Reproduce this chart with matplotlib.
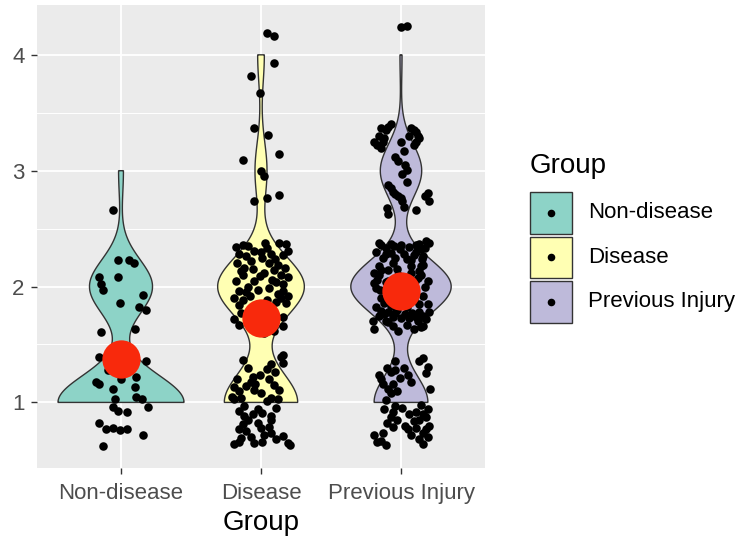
import numpy as np
import matplotlib
matplotlib.use("Agg")
import matplotlib.pyplot as plt
from matplotlib.patches import Rectangle

# ---------------- data ----------------
groups = ["Non-disease", "Disease", "Previous Injury"]
colors = ["#8DD3C7", "#FFFFB3", "#BEBADA"]
y_ticks = [1, 2, 3, 4]

# jittered observations: y value and horizontal jitter (category units)
nd_y = [2.66, 2.23, 2.23, 2.20, 2.08, 2.08, 2.02, 1.97, 1.93, 1.86, 1.82, 1.80, 1.61, 1.63,
        1.39, 1.36, 1.20, 1.18, 1.16, 1.12, 1.13, 1.03, 1.05, 1.03, 0.96, 0.93, 0.92, 0.96,
        0.82, 0.77, 0.78, 0.76, 0.77, 0.72, 0.62, 1.30, 1.33, 1.25, 1.28, 1.22]
nd_dx = [-0.06, -0.02, 0.06, 0.09, -0.16, -0.02, -0.14, -0.13, 0.16, -0.01, 0.13, 0.18, -0.14, 0.10,
         -0.16, 0.18, 0.00, -0.18, -0.16, -0.06, 0.10, -0.04, 0.11, 0.15, -0.06, -0.02, 0.04, 0.19,
         -0.16, -0.11, -0.06, -0.01, 0.04, 0.16, -0.13, -0.04, 0.06, 0.01, -0.09, 0.11]

dis_y = [4.19, 4.16, 3.93, 3.82, 3.67,
         3.37, 3.31, 3.09, 3.14, 3.00, 2.74, 2.76, 2.79, 2.95,
         2.34, 2.36, 2.31, 2.30, 2.28, 2.38, 2.37, 2.31, 2.22, 2.16, 2.13, 2.20, 2.14, 2.19, 2.10,
         2.09, 2.05, 2.00, 1.96, 1.90, 1.95, 2.02, 1.96, 1.90, 1.92, 1.87, 1.84, 1.86, 2.25, 2.33,
         1.97, 1.99, 1.72, 1.67, 1.77, 1.74, 1.66,
         1.70, 1.75, 1.65, 1.80, 1.82, 1.68, 1.62, 1.60, 1.85, 1.88, 2.26, 2.24, 2.28, 2.27, 2.35,
         2.38, 2.05, 2.08, 2.10, 2.04, 2.15, 2.12, 2.20, 2.16, 1.88, 1.94, 1.92, 2.06,
         1.37, 1.41, 1.34, 1.33, 1.29, 1.24, 1.18, 1.14, 1.13, 1.10, 1.05, 1.11, 1.08, 1.15, 1.11,
         1.04, 1.03, 1.01, 1.04, 1.03, 1.39,
         0.93, 0.88, 0.85, 0.94, 0.91, 0.88, 0.81, 0.75, 0.69, 0.82, 0.78, 0.72, 0.74, 0.64, 0.66,
         0.65, 0.66, 0.71, 0.65, 0.63, 0.85, 0.79,
         1.20, 1.22, 1.20, 1.26, 1.30, 1.16, 0.97, 0.90, 0.95, 0.70, 0.68, 0.77]
dis_dx = [0.04, 0.09, 0.09, -0.07, -0.01,
          -0.05, 0.05, -0.13, 0.13, 0.00, -0.05, 0.04, 0.13, 0.02,
          -0.18, -0.13, -0.05, 0.00, 0.07, 0.13, 0.18, 0.19, -0.07, -0.12, -0.14, 0.06, 0.09, 0.12, 0.14,
          -0.01, -0.05, -0.09, -0.16, -0.19, -0.11, 0.16, 0.16, 0.14, 0.19, 0.11, -0.16, 0.18, 0.01, 0.04,
          -0.02, 0.06, -0.19, -0.16, -0.14, 0.16, 0.16,
          -0.04, 0.04, 0.00, -0.07, 0.07, -0.09, 0.09, 0.02, -0.02, 0.04, -0.11, 0.10, -0.16, 0.16, -0.09,
          0.03, -0.18, 0.19, -0.13, 0.11, -0.06, 0.02, -0.17, 0.17, -0.13, 0.12, -0.08, 0.08,
          -0.13, 0.16, 0.16, 0.07, 0.04, -0.01, -0.07, -0.11, -0.19, -0.16, -0.21, -0.05, 0.00, 0.09, 0.13,
          0.07, 0.12, 0.04, -0.14, -0.19, 0.14,
          -0.16, -0.12, -0.09, -0.02, 0.01, 0.07, -0.13, -0.11, -0.14, -0.02, 0.00, 0.02, 0.07, -0.19, -0.16,
          -0.05, 0.01, 0.16, 0.19, 0.21, 0.07, 0.06,
          -0.17, -0.06, 0.06, 0.10, -0.09, -0.04, -0.12, -0.06, 0.11, -0.07, 0.11, -0.16]

pi_y = [4.24, 4.25,
        3.37, 3.40, 3.25, 3.20, 3.28, 3.37, 3.33, 3.28, 3.22, 3.17, 3.08, 3.01, 2.97, 2.88, 2.82,
        2.78, 2.74, 2.69, 2.81, 2.74, 2.66, 2.63,
        3.30, 3.35, 3.22, 3.25, 3.38, 3.35, 3.30, 3.25, 3.30, 3.25, 3.12, 3.05, 2.85, 2.80, 2.76,
        2.90, 2.78, 2.68,
        2.38, 2.33, 2.35, 2.32, 2.39, 2.38, 2.32, 2.27, 2.23, 2.26, 2.19, 2.13, 2.07, 2.20, 2.14,
        2.10, 2.03, 1.99, 2.04, 1.92, 1.85, 1.86, 1.75, 1.76, 1.74, 1.73, 1.73, 1.74, 1.75, 1.78,
        1.63, 1.63, 1.66, 1.69,
        1.95, 2.00, 1.90, 2.05, 1.98, 2.10, 1.88, 1.83, 2.12, 2.28, 1.80, 1.82, 2.25, 2.36, 2.29, 2.05,
        2.36, 2.37, 2.36, 2.34, 2.37, 2.33, 2.30, 2.30, 2.24, 2.18, 2.10, 2.05, 2.00, 2.18, 2.12,
        2.06, 1.97, 1.90, 1.95, 1.82, 1.79, 1.78, 1.77, 1.76, 1.77, 1.78, 1.72, 1.70, 1.66, 1.67,
        1.70, 1.62, 2.28, 2.24, 2.25, 2.18, 2.14, 2.02, 1.93, 2.05, 1.94, 1.88, 1.70, 1.65, 1.85,
        2.15, 2.08,
        1.36, 1.36, 1.31, 1.24, 1.26, 1.21, 1.24, 1.16, 1.16, 1.08, 1.12,
        0.94, 0.97, 0.95, 0.98, 0.94, 0.87, 0.84, 0.85, 0.87, 0.79, 0.77, 0.78, 0.74, 0.70,
        0.72, 0.67, 0.63, 0.64,
        1.30, 1.28, 1.30, 1.38, 1.25, 1.20, 1.12, 1.10, 1.18, 1.02, 0.92, 0.90, 0.92, 0.90, 0.80,
        0.82, 0.85, 0.80, 0.72, 0.68, 0.66, 0.74, 0.77]
pi_dx = [0.00, 0.04,
         -0.14, -0.07, -0.19, -0.14, -0.12, 0.07, 0.11, 0.13, 0.09, 0.02, -0.02, 0.04, 0.01, -0.09, -0.06,
         -0.02, 0.01, 0.02, 0.19, 0.20, 0.11, -0.09,
         -0.16, -0.11, -0.17, -0.13, -0.09, 0.09, 0.12, 0.11, 0.06, 0.00, -0.04, 0.03, -0.07, -0.04, 0.00,
         0.04, 0.17, -0.10,
         -0.16, -0.11, -0.05, -0.01, 0.18, 0.20, 0.14, 0.09, 0.07, 0.16, 0.16, 0.13, 0.12, -0.06, -0.14,
         -0.16, -0.19, -0.18, -0.11, 0.16, 0.13, -0.12, -0.16, -0.12, -0.06, 0.00, 0.06, 0.11, 0.16, 0.20,
         -0.19, 0.09, 0.16, -0.09,
         -0.04, 0.04, 0.00, -0.09, 0.09, -0.02, 0.05, -0.07, 0.07, 0.02, -0.03, 0.04, -0.13, 0.11, -0.07, 0.19,
         -0.14, -0.07, 0.00, 0.06, 0.13, 0.17, -0.18, 0.11, 0.15, 0.14, 0.14, 0.10, 0.17, -0.16, -0.19,
         -0.17, -0.15, -0.14, -0.10, -0.18, -0.14, -0.09, -0.04, 0.03, 0.08, 0.13, 0.18, -0.20, -0.06, 0.04,
         0.12, -0.02, -0.11, 0.04, -0.04, 0.07, -0.09, -0.04, 0.02, 0.06, -0.06, 0.09, -0.11, 0.14, 0.19,
         -0.03, 0.01,
         -0.04, 0.13, 0.19, -0.16, -0.07, -0.01, 0.05, -0.13, -0.06, -0.07, 0.21,
         -0.12, -0.04, 0.01, 0.14, 0.19, -0.07, 0.09, 0.13, 0.18, -0.06, 0.05, 0.11, 0.16, 0.19,
         -0.19, -0.14, -0.11, 0.16,
         -0.10, -0.04, 0.02, 0.16, 0.18, -0.14, -0.09, -0.03, 0.07, -0.11, -0.06, 0.06, 0.11, 0.16, 0.20,
         -0.10, -0.03, 0.03, 0.07, 0.13, -0.17, -0.13, 0.18]

points_y = [nd_y, dis_y, pi_y]
points_dx = [nd_dx, dis_dx, pi_dx]

# ---------------- helpers ----------------
def bw_nrd0(x):
    x = np.asarray(x, float)
    hi = np.std(x, ddof=1)
    q75, q25 = np.percentile(x, [75, 25])
    lo = min(hi, (q75 - q25) / 1.34)
    if lo == 0:
        lo = hi
    return 0.9 * lo * len(x) ** (-0.2)

def kde(x, grid, bw):
    x = np.asarray(x, float)
    z = (grid[:, None] - x[None, :]) / bw
    return np.exp(-0.5 * z ** 2).sum(axis=1) / (len(x) * bw * np.sqrt(2 * np.pi))

# ---------------- figure ----------------
W, H = 741, 540
fig = plt.figure(figsize=(W / 100, H / 100), dpi=100)
plt.rcParams["font.family"] = ["Liberation Sans", "DejaVu Sans"]

pl, pr, pt, pb = 37, 485, 5, 468
ax = fig.add_axes([pl / W, 1 - pb / H, (pr - pl) / W, (pb - pt) / H])
ax.set_facecolor("#EBEBEB")
for s in ax.spines.values():
    s.set_visible(False)

xpos = np.arange(1, len(groups) + 1)
ax.set_xlim(0.4, len(groups) + 0.6)
ax.set_ylim(0.434, 4.43)

for yv in [1.5, 2.5, 3.5]:
    ax.axhline(yv, color="white", lw=0.7, zorder=0)
for yv in y_ticks:
    ax.axhline(yv, color="white", lw=1.3, zorder=0)
for xv in xpos:
    ax.axvline(xv, color="white", lw=1.3, zorder=0)

# violins (ggplot scale = "area")
dens_list = []
for ys in points_y:
    vals = np.round(ys)
    grid = np.linspace(vals.min(), vals.max(), 512)
    d = kde(vals, grid, bw_nrd0(vals))
    dens_list.append((grid, d))
gmax = max(d.max() for _, d in dens_list)

for i, (grid, d) in enumerate(dens_list):
    w = 0.45 * d / gmax
    xs = np.concatenate([xpos[i] - w, (xpos[i] + w)[::-1]])
    ys = np.concatenate([grid, grid[::-1]])
    ax.fill(xs, ys, facecolor=colors[i], edgecolor="#333333", lw=1.0, zorder=2)

# jittered points
for i in range(len(groups)):
    ax.scatter(xpos[i] + np.asarray(points_dx[i]), points_y[i], s=38, color="black",
               linewidths=0, zorder=3)

# mean points
for i in range(len(groups)):
    m = np.round(points_y[i]).mean()
    ax.scatter([xpos[i]], [m], s=760, color="#F8290C", linewidths=0, zorder=4)

ax.set_xticks(xpos)
ax.set_xticklabels(groups, fontsize=16, color="#4D4D4D")
ax.set_yticks(y_ticks)
ax.set_yticklabels([str(v) for v in y_ticks], fontsize=16, color="#4D4D4D")
ax.tick_params(axis="both", length=4, width=1.0, color="#333333")
ax.tick_params(axis="x", pad=7)
ax.tick_params(axis="y", pad=5)
ax.set_xlabel("Group", fontsize=20, labelpad=4)

# legend (figure pixel overlay)
lg = fig.add_axes([0, 0, 1, 1])
lg.set_xlim(0, W)
lg.set_ylim(H, 0)
lg.axis("off")
lg.text(530, 166, "Group", fontsize=20, va="center", ha="left")
key_tops = [192, 236.5, 281]
for i, g in enumerate(groups):
    t = key_tops[i]
    lg.add_patch(Rectangle((529.5, t), 42, 41.5, facecolor=colors[i], edgecolor="#333333", lw=1.0))
    lg.scatter([550.5], [t + 20.75], s=30, color="black", linewidths=0)
    lg.text(588, t + 21, g, fontsize=16, va="center", ha="left")

fig.savefig("out.png", dpi=100)
